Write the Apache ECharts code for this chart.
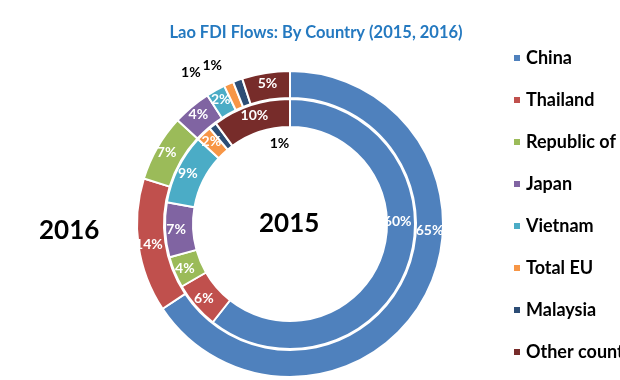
<!DOCTYPE html>
<html><head><meta charset="utf-8">
<script src="https://cdn.jsdelivr.net/npm/echarts@6/dist/echarts.min.js"></script>
<style>html,body{margin:0;padding:0;background:#fff}#c{width:620px;height:380px}</style>
</head><body><div id="c"></div>
<script>
const categories = ['China','Thailand','Republic of Korea','Japan','Vietnam','Total EU','Malaysia','Other countries'];
const values2015 = [60, 6, 4, 7, 9, 2, 1, 10];
const values2016 = [65, 14, 7, 4, 2, 1, 1, 5];
const colors = ['#4F81BD','#C0504D','#9BBB59','#8064A2','#4BACC6','#F79646','#2C4D75','#772C2A'];

const FONT = 'Lato';
const baseLabel = {show:true, position:'inside', formatter:'{c}%', color:'#fff', fontWeight:'bold', fontSize:14, fontFamily:FONT};

function build(vals, overrides){
  return categories.map((n,i)=>{
    const d = {name:n, value:vals[i]};
    if (overrides[i]) Object.assign(d, overrides[i]);
    return d;
  });
}

const inner = build(values2015, {
  0: {label:{offset:[0,-40]}},
  6: {label:{color:'#000', offset:[60,9], fontSize:14}}
});
const outer = build(values2016, {
  0: {label:{offset:[14,-61]}},
  5: {label:{color:'#000', fontSize:14, offset:[-42,-21]}},
  6: {label:{color:'#000', fontSize:14, offset:[-29,-25]}}
});

const chart = echarts.init(document.getElementById('c'));
chart.setOption({
  animation:false,
  color: colors,
  title: {text:'Lao FDI Flows: By Country (2015, 2016)', left:311, textAlign:'center', top:19,
    textStyle:{color:'#2479C0', fontSize:16.5, fontWeight:'bold', fontFamily:FONT}},
  legend: {orient:'vertical', left:507, top:44, itemWidth:8, itemHeight:8, itemGap:24,
    icon:'rect', data:categories,
    textStyle:{fontSize:18, fontWeight:'bold', fontFamily:FONT, color:'#000', lineHeight:18,
      width:99, overflow:'truncate', ellipsis:''}},
  graphic: [
    {type:'text', left:39, top:218, style:{text:'2016', fontSize:26, fontWeight:'bold', fontFamily:FONT, fill:'#000'}},
    {type:'text', left:259, top:211, style:{text:'2015', fontSize:26, fontWeight:'bold', fontFamily:FONT, fill:'#000'}}
  ],
  series: [
    {type:'pie', name:'2015', radius:[97,125], center:[290,224], startAngle:90, clockwise:true,
      itemStyle:{borderColor:'#fff', borderWidth:2}, label:baseLabel, labelLine:{show:false},
      emphasis:{disabled:true}, data:inner},
    {type:'pie', name:'2016', radius:[126,153], center:[290,224], startAngle:90, clockwise:true,
      itemStyle:{borderColor:'#fff', borderWidth:2}, label:baseLabel, labelLine:{show:false},
      emphasis:{disabled:true}, data:outer}
  ]
});
</script></body></html>
